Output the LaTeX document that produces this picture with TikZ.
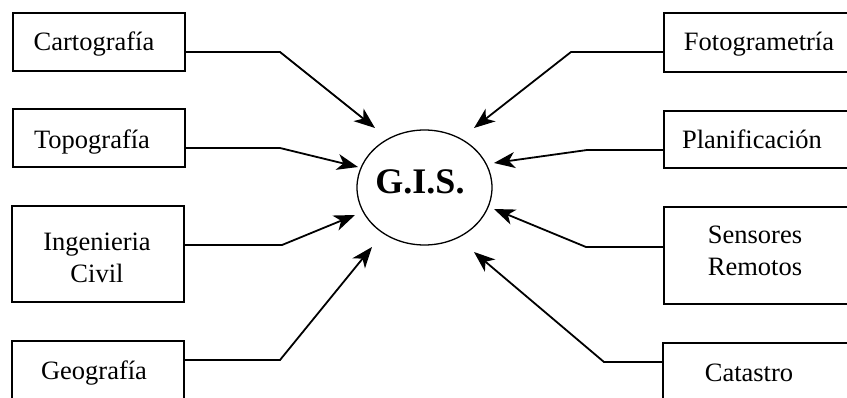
\documentclass[tikz,border=0pt]{standalone}
\usepackage{fontspec}
\setmainfont{Liberation Serif}
\usetikzlibrary{arrows.meta,shapes.geometric}
\begin{document}
\begin{tikzpicture}[x=1pt,y=-1pt,
  box/.style={draw, line width=1.3pt, inner sep=0pt},
  lbl/.style={font=\fontsize{26.5}{31.5}\selectfont, inner sep=0pt, anchor=base, align=center},
  conn/.style={line width=1.8pt, -{Stealth[length=21pt,width=16pt,inset=6pt]}}]
\useasboundingbox (0,0) rectangle (847,397);
\clip (0,0) rectangle (847,397);
% centre
\node[draw, ellipse, line width=1.3pt, minimum width=135pt, minimum height=115pt, inner sep=0pt] (gis) at (424.5,187.5) {};
\node[font=\fontsize{36}{40}\selectfont\bfseries, inner sep=0pt, anchor=base] (gistxt) at (420,193) {G.I.S.};
% left boxes
\node[box, minimum width=172pt, minimum height=58pt] (cart) at (99,42) {};
\node[box, minimum width=172pt, minimum height=58pt] (topo) at (99,138) {};
\node[box, minimum width=172pt, minimum height=96pt] (inge) at (98,254) {};
\node[box, minimum width=172pt, minimum height=60pt] (geo) at (98,371) {};
% right boxes
\node[box, minimum width=216pt, minimum height=59pt] (foto) at (772,42.5) {};
\node[box, minimum width=216pt, minimum height=57pt] (plan) at (772,139.5) {};
\node[box, minimum width=216pt, minimum height=97pt] (sens) at (772,255.5) {};
\node[box, minimum width=218pt, minimum height=60pt] (cat) at (772,373) {};
% labels
\node[lbl] (cartl) at (94,50) {Cartografía};
\node[lbl] (topol) at (92,148) {Topografía};
\node[lbl] (ingel) at (97,282) {Ingenieria\\Civil};
\node[lbl] (geol) at (94,379) {Geografía};
\node[lbl] (fotol) at (759,50) {Fotogrametría};
\node[lbl] (planl) at (752,148) {Planificación};
\node[lbl] (sensl) at (755,275) {Sensores\\Remotos};
\node[lbl] (catl) at (749,381) {Catastro};
% bends and tips
\coordinate (b1) at (280,52);  \coordinate (t1) at (375,128);
\coordinate (b2) at (280,148); \coordinate (t2) at (358,167);
\coordinate (b3) at (282,245); \coordinate (t3) at (355,215);
\coordinate (b4) at (280,360); \coordinate (t4) at (372,247);
\coordinate (b5) at (571,52);  \coordinate (t5) at (474,128);
\coordinate (b6) at (587,150); \coordinate (t6) at (494,163);
\coordinate (b7) at (586,247); \coordinate (t7) at (494,209);
\coordinate (b8) at (604,362); \coordinate (t8) at (474,252);
% connectors
\draw[conn] (cart.east |- b1) -- (b1) -- (t1);
\draw[conn] (topo.east |- b2) -- (b2) -- (t2);
\draw[conn] (inge.east |- b3) -- (b3) -- (t3);
\draw[conn] (geo.east |- b4) -- (b4) -- (t4);
\draw[conn] (foto.west |- b5) -- (b5) -- (t5);
\draw[conn] (plan.west |- b6) -- (b6) -- (t6);
\draw[conn] (sens.west |- b7) -- (b7) -- (t7);
\draw[conn] (cat.west |- b8) -- (b8) -- (t8);
\end{tikzpicture}
\end{document}
